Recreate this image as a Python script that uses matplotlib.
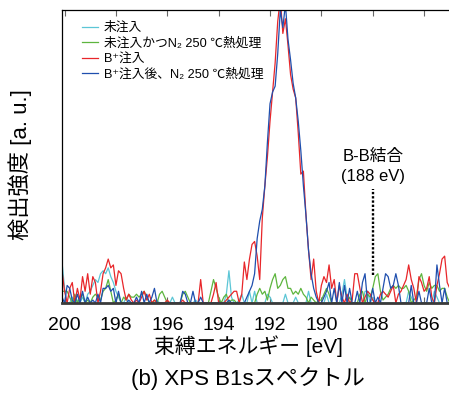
import numpy as np
import matplotlib
matplotlib.use("Agg")
import matplotlib.pyplot as plt

plt.rcParams['font.family'] = ['Liberation Sans', 'Noto Sans CJK JP', 'DejaVu Sans']

# binding energy grid (eV), 200.1 -> 185.0 in 0.1 eV steps
energy = np.round(np.linspace(200.1, 185.0, 152), 1)

untreated = [14,5,0,0,2,0,1,0,2,0,
             3,4,6,8,7,10,11,10,12,9,
             7,4,2,0,0,2,0,0,0,0,
             0,0,0,0,0,0,0,1,0,0,
             0,0,0,2,0,0,0,0,0,0,
             0,0,1,0,0,0,0,0,0,0,
             0,0,0,0,3,11,2,0,0,1,
             3,0,0,4,0,
             4,0,0,0,0,3,2,0,0,0,
             0,0,3,0,0,0,2,0,0,0,
             0,4,0,0,0,0,
             0,0,3,0,0,0,0,0,3,8,
             2,0,0,0,0,0,0,4,4,0,
             2,0,0,0,0,0,0,0,0,0,
             0,0,0,0,4,2,0,0,0,0,
             0,0,0,0,4,2,0,0,0,0,
             0]

untreated_n2 = [4,4,4,2,0,3,0,2,3,0,
                1,0,2,3,2,1,4,5,8,4,
                0,1,3,0,2,1,3,2,2,3,
                2,3,4,2,0,0,1,0,3,4,
                2,0,0,0,0,0,0,3,4,2,
                0,0,0,0,0,0,0,0,4,8,
                5,2,0,2,3,0,1,1,0,0,
                0,0,0,0,0,
                0,3,5,3,4,1,5,8,10,5,
                6,8,9,5,5,3,4,3,5,3,
                2,0,2,1,0,1,
                1,3,5,3,0,0,0,0,0,0,
                0,2,0,0,0,3,4,0,3,2,
                5,9,10,4,1,2,3,5,6,5,
                6,5,5,6,4,0,1,2,8,10,
                6,4,7,5,6,6,4,5,5,2,
                0]

b_implanted = [11,4,0,5,7,0,5,1,9,4,
               10,3,9,7,0,4,10,12,15,12,
               13,6,11,10,5,1,3,1,0,1,
               0,2,4,1,3,0,1,0,0,0,
               0,1,0,0,0,0,0,1,0,0,
               0,0,0,0,8,0,0,0,0,3,
               7,0,0,0,1,2,3,4,4,0,
               3,14,8,15,20,
               21,16,8,29,40,50,62,72,82,96,
               104,92,97,88,78,73,70,58,44,45,
               30,18,8,15,4,0,
               6,9,7,13,5,8,0,6,2,0,
               3,0,1,10,10,5,0,2,4,3,
               1,0,0,3,4,3,2,4,6,0,
               3,4,6,8,13,8,5,0,9,7,
               4,5,9,2,0,6,10,15,16,7,
               5]

b_implanted_n2 = [2,0,6,5,1,0,3,0,4,0,
                  2,0,1,0,3,0,5,5,6,4,
                  5,0,4,0,0,0,1,0,0,2,
                  0,4,0,3,0,2,5,0,0,0,
                  0,0,0,0,0,0,0,4,3,0,
                  0,4,0,0,2,0,0,0,0,0,
                  0,0,0,0,0,1,0,0,0,0,
                  0,0,2,4,6,
                  10,22,28,32,40,55,68,72,74,85,
                  100,94,102,90,83,75,70,62,52,40,
                  30,18,10,5,2,0,
                  0,2,4,7,0,5,0,7,0,6,
                  0,5,0,0,4,0,7,10,0,0,
                  5,0,2,0,5,10,9,5,6,10,
                  6,0,0,0,0,6,0,0,4,0,
                  0,0,5,0,0,13,6,0,5,0,
                  0]

series_labels = ['未注入', '未注入かつN₂ 250 ℃熱処理', 'B⁺注入', 'B⁺注入後、N₂ 250 ℃熱処理']
series_colors = ['#5cc6d6', '#5db53e', '#e8262a', '#1f4fae']
xticks = [200, 198, 196, 194, 192, 190, 188, 186]

fig = plt.figure(figsize=(4.49, 4.03), dpi=100)
ax = fig.add_axes([62/449, 1-303/403, 1-62/449, (303-10)/403])

for vals, lab, col in zip([untreated, untreated_n2, b_implanted, b_implanted_n2], series_labels, series_colors):
    ax.plot(energy, vals, color=col, lw=0.9, label=lab)

ax.set_xlim(200.1, 185.03)
ax.set_ylim(0, 100)
ax.set_xticks(xticks)
ax.set_xticklabels([str(t) for t in xticks], fontsize=14)
ax.set_yticks([])
ax.tick_params(axis='x', direction='in', top=True, bottom=True, length=4, width=0.8, color='#666666', pad=10)

for s in ['top', 'left']:
    ax.spines[s].set_linewidth(0.9)
    ax.spines[s].set_color('black')
ax.spines['right'].set_visible(False)
ax.spines['bottom'].set_linewidth(2.0)
ax.spines['bottom'].set_color('#3a3a3a')

# B-B bond marker
ax.plot([188, 188], [9.5, 39], color='black', lw=1.7, linestyle=(0, (1, 0.8)))
ax.text(188, 46.6, 'B-B結合\n(188 eV)', ha='center', va='center', fontsize=12, linespacing=1.35)

leg = ax.legend(loc='upper left', bbox_to_anchor=(0.039, 0.977), frameon=False, fontsize=9.2,
                handlelength=1.2, handletextpad=0.5, labelspacing=0.26, borderaxespad=0)

fig.text(248/449, 1-346/403, '束縛エネルギー [eV]', ha='center', va='center', fontsize=15)
fig.text(248/449, 1-379/403, '(b) XPS B1sスペクトル', ha='center', va='center', fontsize=16)
fig.text(20/449, 1-165/403, '検出強度 [a. u.]', ha='center', va='center', rotation=90, fontsize=16)

fig.savefig('out.png', dpi=100)
